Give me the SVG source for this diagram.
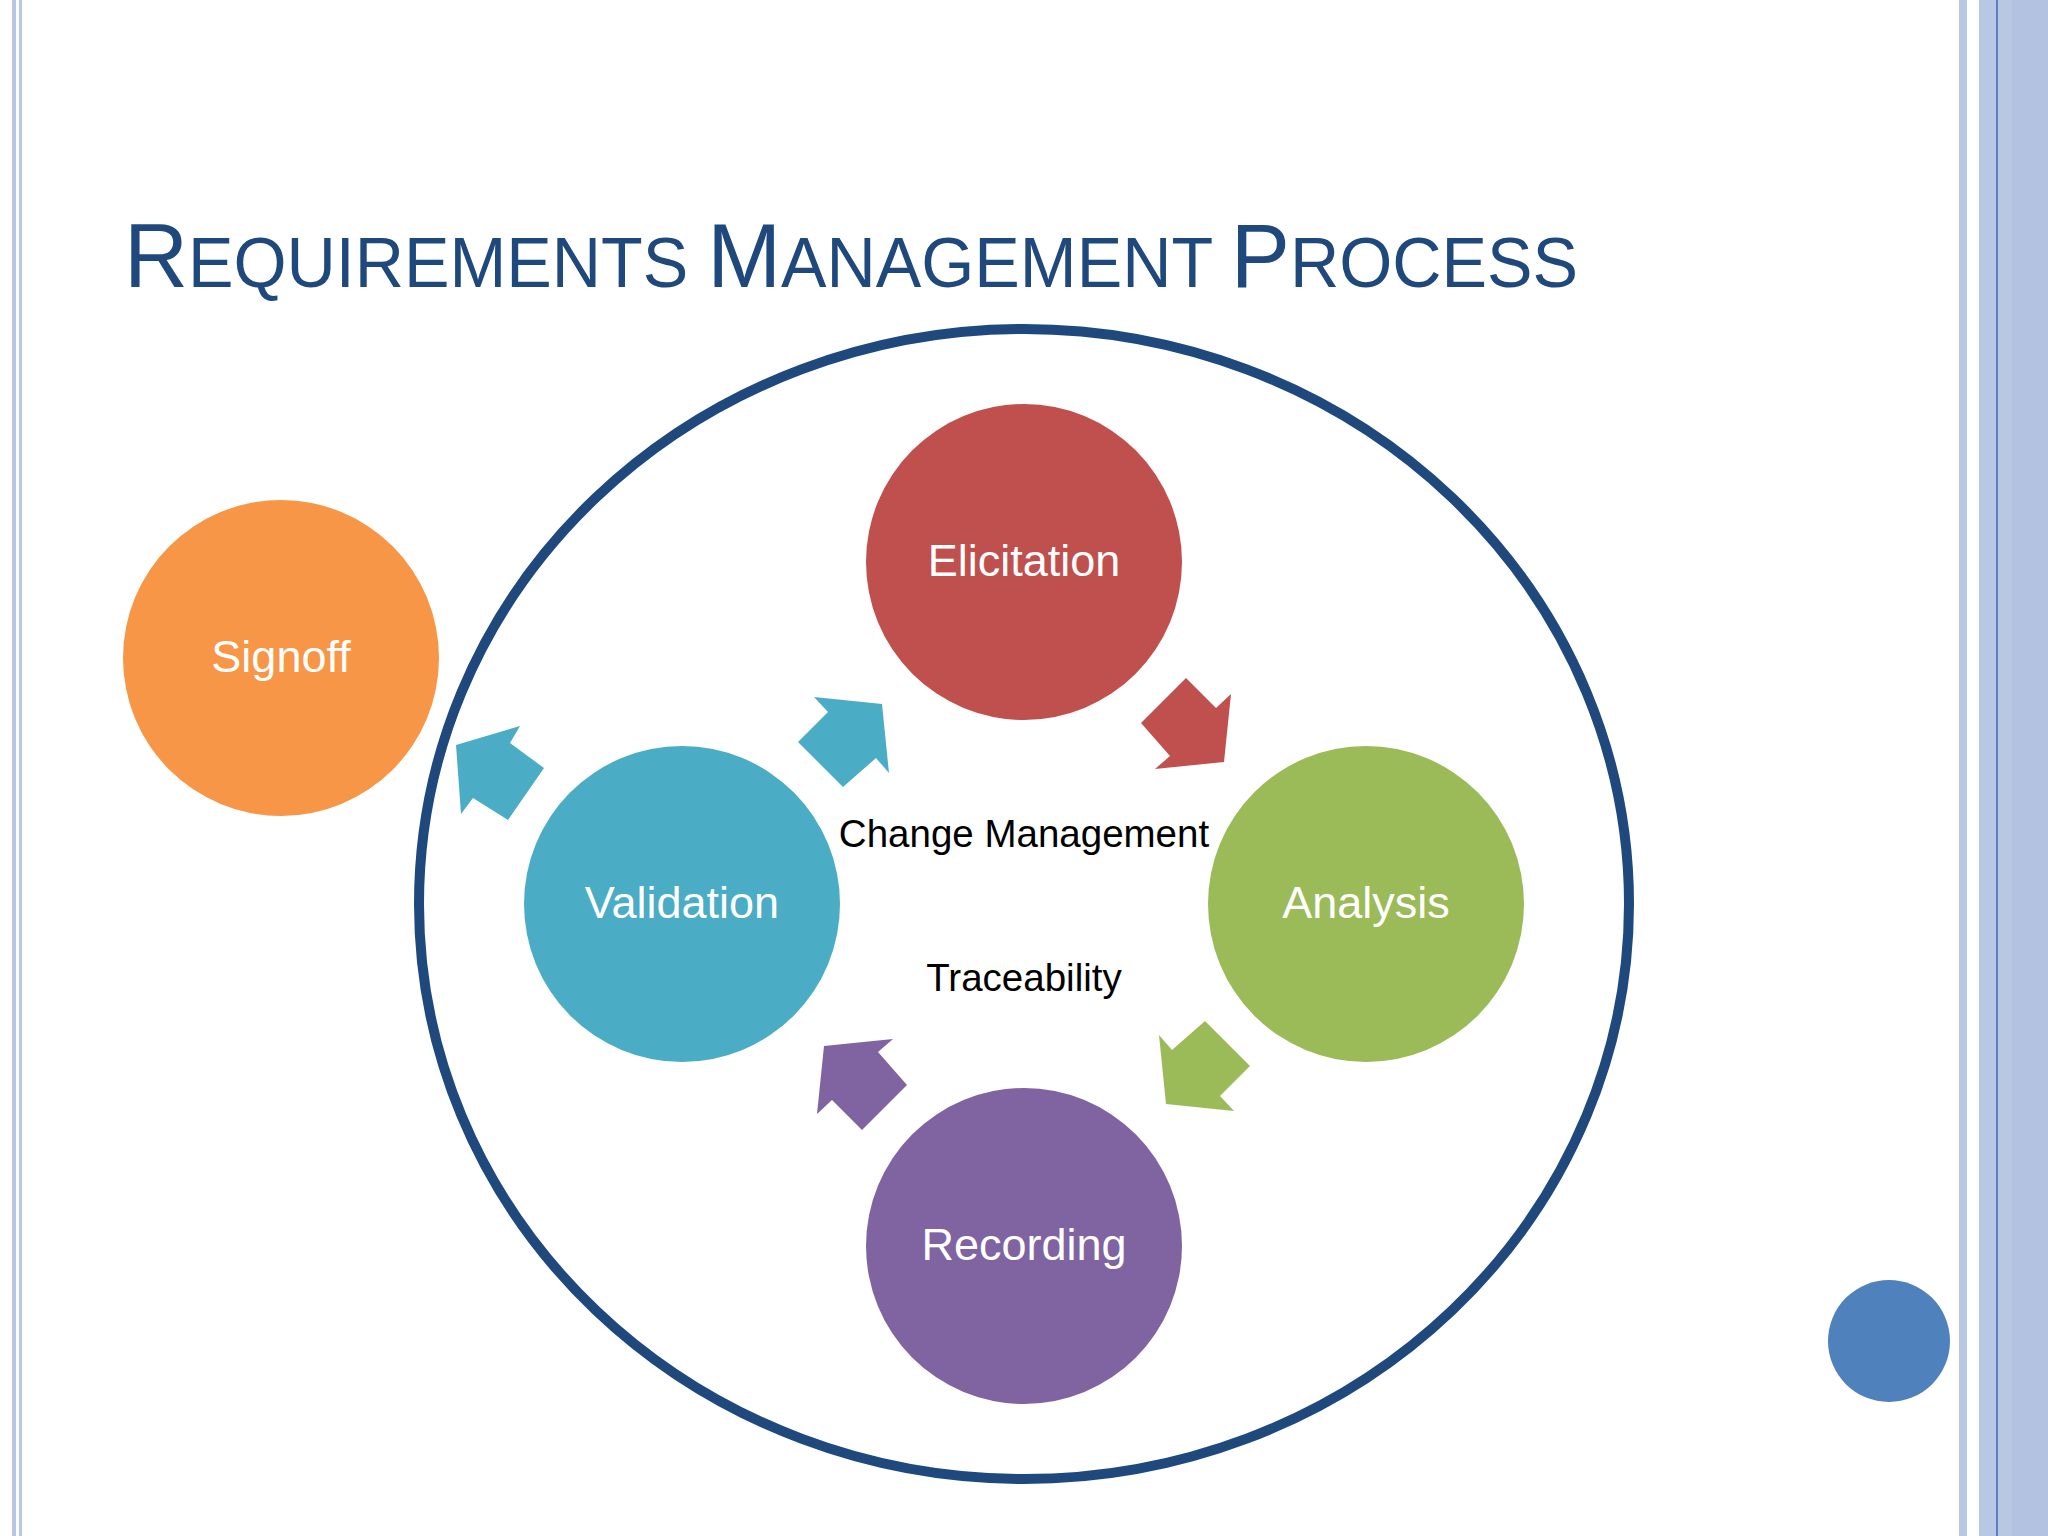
<svg xmlns="http://www.w3.org/2000/svg" width="2048" height="1536" viewBox="0 0 2048 1536">
<style>
.lbl{font-family:"Liberation Sans",Arial,sans-serif;font-size:45px;fill:#fff;text-anchor:middle}
.blk{font-family:"Liberation Sans",Arial,sans-serif;font-size:38.5px;fill:#000;text-anchor:middle}
.t{font-family:"Liberation Sans",Arial,sans-serif;fill:#1f497d}
</style>
<defs>
<polygon id="arr" points="1186,678 1141,723 1170,756 1155,769 1224,762 1231,694 1216,708"/>
</defs>
<rect width="2048" height="1536" fill="#fff"/>
<g id="border">
<rect x="12" y="0" width="4" height="1536" fill="#b8c7e3"/>
<rect x="19" y="0" width="3" height="1536" fill="#b8c7e3"/>
<rect x="1959" y="0" width="8" height="1536" fill="#b8c7e3"/>
<rect x="1979" y="0" width="69" height="1536" fill="#b9c8e2"/>
<rect x="1996" y="0" width="2" height="1536" fill="#5b7fbf"/>
<rect x="2012" y="0" width="36" height="1536" fill="#b2c2e0"/>
</g>
<text class="t" x="124" y="287" textLength="1454" lengthAdjust="spacingAndGlyphs"><tspan font-size="91">R</tspan><tspan font-size="70">EQUIREMENTS </tspan><tspan font-size="91">M</tspan><tspan font-size="70">ANAGEMENT </tspan><tspan font-size="91">P</tspan><tspan font-size="70">ROCESS</tspan></text>
<g id="outer"><ellipse cx="1024" cy="904" rx="605" ry="575" fill="none" stroke="#1f497d" stroke-width="10"/></g>
<g id="connectors">
<use href="#arr" fill="#c0504d"/>
<use href="#arr" fill="#9bbb59" transform="rotate(90 1024 904)"/>
<use href="#arr" fill="#8064a2" transform="rotate(180 1024 904)"/>
<use href="#arr" fill="#4bacc6" transform="rotate(270 1024 904)"/>
<polygon points="456,745 520,726 510,743 544,768 508,820 473,798 461,814" fill="#4bacc6"/>
</g>
<g id="signoff"><circle cx="281" cy="658" r="158" fill="#f79646"/><text class="lbl" x="281" y="672">Signoff</text></g>
<g id="elicitation"><circle cx="1024" cy="562" r="158" fill="#c0504d"/><text class="lbl" x="1024" y="576">Elicitation</text></g>
<g id="analysis"><circle cx="1366" cy="904" r="158" fill="#9bbb59"/><text class="lbl" x="1366" y="918">Analysis</text></g>
<g id="recording"><circle cx="1024" cy="1246" r="158" fill="#8064a2"/><text class="lbl" x="1024" y="1260">Recording</text></g>
<g id="validation"><circle cx="682" cy="904" r="158" fill="#4bacc6"/><text class="lbl" x="682" y="918">Validation</text></g>
<text class="blk" x="1024" y="847">Change Management</text>
<text class="blk" x="1024" y="991">Traceability</text>
<g id="dot"><circle cx="1889" cy="1341" r="61" fill="#4f81bd"/></g>
</svg>
